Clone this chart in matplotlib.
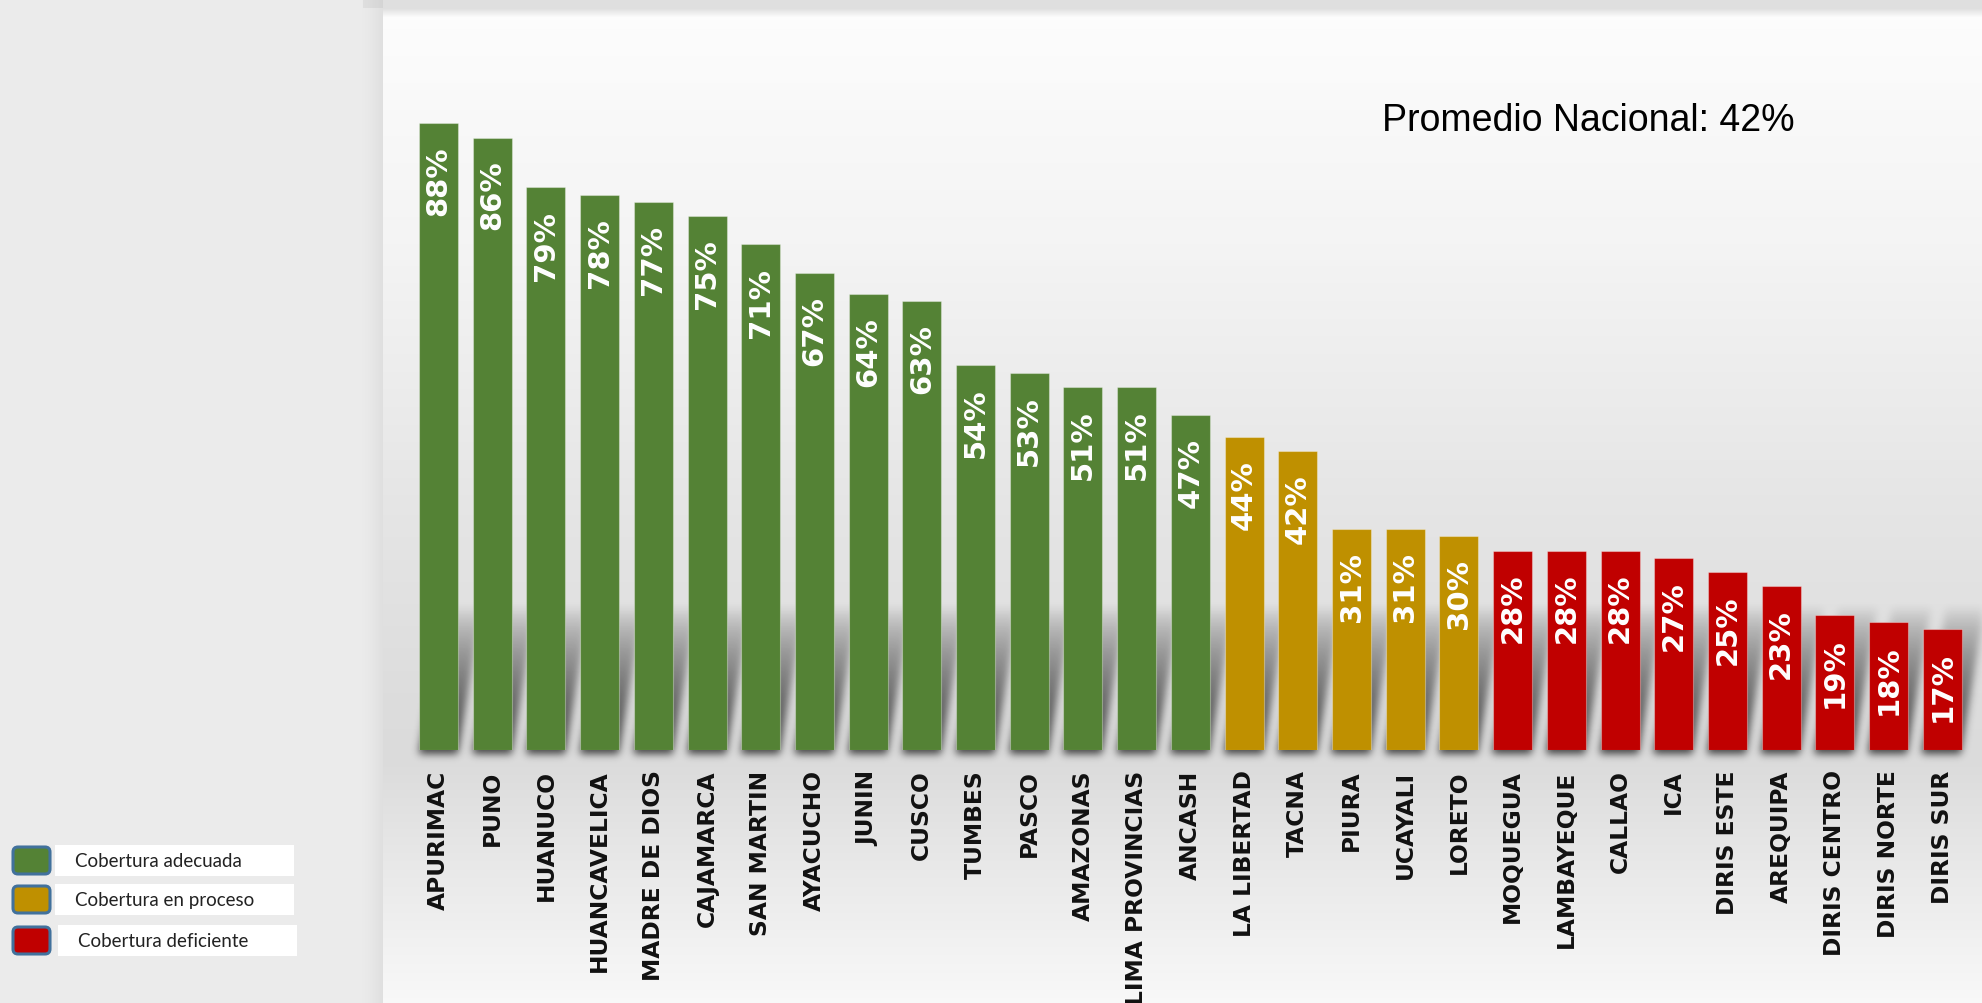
import numpy as np
import matplotlib
matplotlib.use("Agg")
import matplotlib.pyplot as plt
from matplotlib.patches import FancyBboxPatch, Rectangle

# cobertura por region (%)
regiones = ["APURIMAC", "PUNO", "HUANUCO", "HUANCAVELICA", "MADRE DE DIOS",
            "CAJAMARCA", "SAN MARTIN", "AYACUCHO", "JUNIN", "CUSCO", "TUMBES",
            "PASCO", "AMAZONAS", "LIMA PROVINCIAS", "ANCASH", "LA LIBERTAD",
            "TACNA", "PIURA", "UCAYALI", "LORETO", "MOQUEGUA", "LAMBAYEQUE",
            "CALLAO", "ICA", "DIRIS ESTE", "AREQUIPA", "DIRIS CENTRO",
            "DIRIS NORTE", "DIRIS SUR"]
cobertura = [88, 86, 79, 78, 77, 75, 71, 67, 64, 63, 54, 53, 51, 51, 47,
             44, 42, 31, 31, 30,
             28, 28, 28, 27, 25, 23, 19, 18, 17]
nivel = [0] * 15 + [1] * 5 + [2] * 9
niveles = ["Cobertura adecuada", "Cobertura en proceso", "Cobertura deficiente"]
colores = ["#548235", "#bf9000", "#c00000"]
promedio_nacional = 42

W, H = 1982, 1004
fig = plt.figure(figsize=(W / 100, H / 100), dpi=100)
fig.patch.set_facecolor("#ebebeb")

# fondo en coordenadas de pixel
bg = fig.add_axes([0, 0, 1, 1], zorder=-5)
bg.set_xlim(0, W)
bg.set_ylim(H, 0)
bg.axis("off")

px0, py0 = 383, 9
yy = np.arange(H)
stops_y = [0, 9, 250, 500, 700, 760, 850, 1004]
stops_v = [0.875, 0.99, 0.955, 0.90, 0.865, 0.86, 0.905, 0.975]
g = np.interp(yy, stops_y, stops_v)
panel = np.repeat(g[:, None], 8, axis=1)
bg.imshow(np.dstack([panel] * 3), extent=[px0, W, H, py0], aspect="auto",
          interpolation="bilinear", zorder=0)
# franja superior
bg.add_patch(Rectangle((px0 - 20, 0), W, py0, color="#dfdfdf", lw=0, zorder=0))
# sombra del panel a la izquierda
sh = np.linspace(0, 1, 30) ** 2 * 0.05
sh_img = np.zeros((2, 30, 4))
sh_img[..., 3] = sh
bg.imshow(sh_img, extent=[px0 - 30, px0, H, 0], aspect="auto",
          interpolation="bilinear", zorder=1)

# leyenda
fila_y = [847, 886, 927]
for lbl, col, y0 in zip(niveles, colores, fila_y):
    bg.add_patch(FancyBboxPatch((13, y0 + 1), 37, 27,
                                boxstyle="round,pad=0,rounding_size=5",
                                fc=col, ec="#41719c", lw=2.2, zorder=3))
    xb = 55 if y0 < 900 else 58
    bg.add_patch(Rectangle((xb, y0 - 1), 239, 31, fc="white", ec="none", zorder=2))
    bg.text(xb + 20, y0 + 15, lbl, fontsize=13.5, family=["Lato", "DejaVu Sans"],
            color="#222222", va="center", ha="left", zorder=4)

# grafico de barras
ax = fig.add_axes([px0 / W, (H - 751) / H, (W - px0) / W, (751 - py0) / H])
ax.set_facecolor("none")
x = np.arange(len(regiones))
ancho = 0.726

# sombra inclinada de las barras, difuminada
xs = np.linspace(-1.034, 28.74, 1600)
ys = np.linspace(-2, 24, 185)
XX, YY = np.meshgrid(xs, ys)
alpha = np.zeros_like(XX)
alto_sombra = 20.0
incl = 0.022
for xi, v in zip(x, cobertura):
    hs = min(alto_sombra, v + 3)
    dentro = ((XX >= xi - ancho / 2 + incl * YY) & (XX <= xi + ancho / 2 + incl * YY)
              & (YY >= -0.6) & (YY <= hs))
    perfil = np.clip(1 - YY / hs, 0, 1) ** 0.7 * 0.7
    alpha = np.maximum(alpha, np.where(dentro, perfil, 0))


def suavizar(a, sigma):
    r = int(3 * sigma)
    k = np.exp(-0.5 * (np.arange(-r, r + 1) / sigma) ** 2)
    k /= k.sum()
    a = np.apply_along_axis(lambda v: np.convolve(v, k, mode="same"), 0, a)
    a = np.apply_along_axis(lambda v: np.convolve(v, k, mode="same"), 1, a)
    return a


alpha = suavizar(alpha, 4.0)
sombra = np.zeros(alpha.shape + (4,))
sombra[..., 3] = alpha
ax.imshow(sombra, extent=[xs[0], xs[-1], ys[0], ys[-1]], origin="lower",
          aspect="auto", interpolation="bilinear", zorder=1, clip_on=False)
ax.set_xlim(-1.034, 28.74)
ax.set_ylim(0, 104.2)

bar_colors = [colores[n] for n in nivel]
ax.bar(x, cobertura, width=ancho, color=bar_colors, edgecolor="#ffffff55",
       linewidth=0.8, zorder=2)

for xi, v in zip(x, cobertura):
    ax.annotate(f"{v}%", (xi, v), xytext=(0, -16), textcoords="offset points",
                rotation=90, ha="center", va="top", color="white",
                fontsize=21, fontweight="bold", family="DejaVu Sans", zorder=3)

ax.set_xticks(x)
ax.set_xticklabels(regiones, rotation=90, fontsize=16.8, fontweight="bold",
                   family="DejaVu Sans", color="#111111")
ax.tick_params(axis="x", length=0, pad=14)
ax.set_yticks([])
for s in ax.spines.values():
    s.set_visible(False)

fig.text(1382 / W, 1 - 121 / H, f"Promedio Nacional: {promedio_nacional}%",
         fontsize=27, family=["Liberation Sans Narrow", "Liberation Sans"],
         color="black", ha="left", va="center")

fig.savefig("out.png", dpi=100, facecolor=fig.get_facecolor())
